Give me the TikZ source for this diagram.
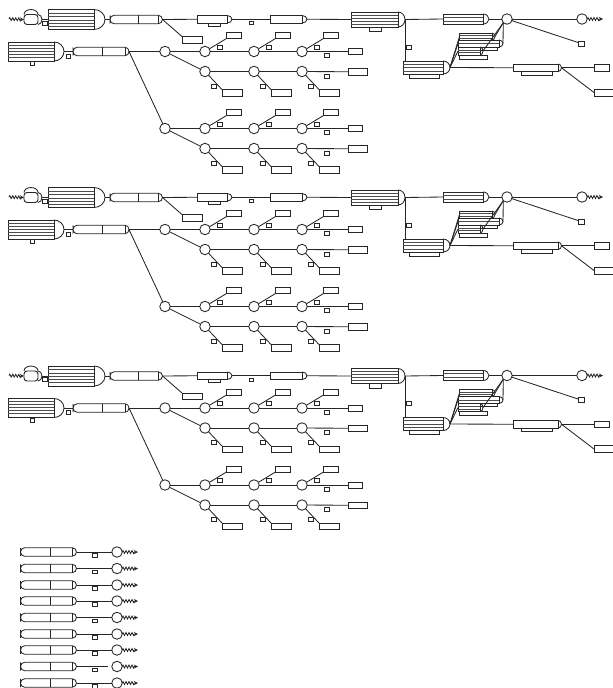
\documentclass[tikz,border=0pt]{standalone}
\usetikzlibrary{decorations.pathmorphing}
\tikzset{
  wire/.style={line width=0.85pt,black!85},
  unitbox/.style={draw=black!85,fill=white,line width=0.95pt,inner sep=0pt,outer sep=0pt},
  tubebody/.style={inner sep=0pt,outer sep=0pt},
  vlv/.style={circle,draw=black!85,fill=white,line width=0.85pt,minimum size=10.5pt,inner sep=0pt,outer sep=0pt},
  sq/.style={draw=black!85,fill=white,line width=0.8pt,minimum width=5pt,minimum height=4pt,inner sep=0pt,outer sep=0pt},
  zig/.style={wire,->,>=stealth,decorate,decoration={zigzag,amplitude=1.4pt,segment length=3pt,post length=3pt}}
}
% name, x1, y1, x2, y2
\newcommand{\rtag}[5]{\node[unitbox,minimum width={(#4-#2)*1pt},minimum height={(#5-#3)*1pt}] (#1) at ({(#2+#4)/2},{(#3+#5)/2}) {};}
% name, cap width, half height
\newcommand{\capon}[3]{
  \draw[wire] (#1.east) ++(0,#3pt) arc[start angle=90,end angle=-90,x radius=#2pt,y radius=#3pt];
  \coordinate (#1-o) at ([xshift=#2pt]#1.east);
}
% name, x1, y1, x2, y2, cap width, stripes
\newcommand{\vessel}[7]{
  \rtag{#1}{#2}{#3}{#4}{#5}
  \foreach \yy in {#7} \draw[wire,black!70] (#2,\yy) -- (#4,\yy);
  \pgfmathsetmacro{\capr}{(#5-#3)/2}
  \capon{#1}{#6}{\capr}
}
% name, x1, x2, divider, y, cap width
\newcommand{\tube}[6]{
  \node[tubebody,minimum width={(#3-#2)*1pt},minimum height=8.5pt] (#1) at ({(#2+#3)/2},#5) {};
  \draw[wire,rounded corners=4.2pt] (#1.south east) -| (#1.west) |- (#1.north east);
  \draw[wire] (#1.north east) -- (#1.south east);
  \draw[wire] (#4,#5-4.25) -- (#4,#5+4.25);
  \capon{#1}{#6}{4.25}
}
\begin{document}
\begin{tikzpicture}[x=1pt,y=-1pt]
  \useasboundingbox (0,0) rectangle (613,688);
  \foreach \blk/\dy in {1/0,2/178,3/356.5}{
  \begin{scope}[yshift=-\dy pt,name prefix=b\blk-]
    % Top line: intake to the first vessel
    \coordinate (zin) at (9,19);
    \node[unitbox,rounded corners=3pt,minimum width=14pt,minimum height=10pt] (intk) at (31,19.5) {};
    \draw[wire] (intk.north west) arc[start angle=180,end angle=0,x radius=7pt,y radius=5pt];
    \capon{intk}{4}{5}
    \draw[zig] (zin) -- (intk.west);
    \vessel{ves1}{48}{9.5}{94}{29.5}{11}{13,16.5,20,23,26}
    \draw[wire] (intk-o) -- (ves1.west);
    \node[sq] (s1) at (45,23) {};
    \tube{tb1}{110}{158}{138}{19.5}{4.5}
    \draw[wire] (ves1-o) -- (tb1.west);
    \rtag{t1}{182}{36.5}{202}{43}
    \draw[wire] (tb1-o) -- (t1.north west);
    % Top line: two heaters
    \rtag{ut1}{208}{23}{220.5}{26}
    \rtag{h1}{197}{15.5}{227}{23}
    \capon{h1}{5}{3.75}
    \rtag{h2}{270}{15.5}{302}{23}
    \capon{h2}{5}{3.75}
    \node[sq,minimum width=4pt,minimum height=3pt] (s2) at (251.5,23) {};
    \draw[wire] (tb1-o) -- (h1.west);
    \draw[wire] (h1-o) -- (h2.west);
    % Second vessel and what follows it
    \rtag{ut2}{369}{27}{381}{31.5}
    \vessel{ves2}{351}{12}{398}{27}{7}{15,18,21,24}
    \draw[wire] (h2-o) -- (ves2.west);
    \vessel{ves3}{443}{14}{483}{24}{6}{17,21}
    \draw[wire] (ves2-o) -- (ves3.west);
    \node[vlv] (m1) at (507,19) {};
    \node[vlv] (m2) at (582,19) {};
    \coordinate (zout) at (603,19);
    \draw[wire] (ves3-o) -- (m1);
    \draw[wire] (m1) -- (m2);
    \draw[zig] (m2) -- (zout);
    \node[sq,minimum width=6pt,minimum height=5pt] (s3) at (581,43.5) {};
    \draw[wire] (m1) -- (s3);
    % Lower vessel with the stack
    \rtag{ut3}{409}{74}{439}{78}
    \vessel{ves4}{403}{61}{443}{74}{7}{64,67.5,71}
    \draw[wire] (ves2-o) -- ([xshift=2pt]ves4.north west);
    \node[sq,minimum height=4pt] (s4) at (408.5,47) {};
    \rtag{ut4}{459}{55}{487}{59}
    \vessel{sa}{459.5}{33}{492}{40}{3}{35.5,38}
    \rtag{ut5}{465}{47}{497}{50}
    \vessel{sb}{458}{40}{499}{47}{4}{43.5}
    \vessel{sc}{458}{47}{480}{55}{3}{50,52.5}
    \draw[wire] (ves4-o) -- (sa.west);
    \draw[wire] (ves4-o) -- (sb.west);
    \draw[wire] (ves4-o) -- (sc.west);
    \draw[wire] (sa-o) -- (m1.south west);
    \draw[wire] (sb-o) -- (m1.south west);
    \draw[wire] (sc-o) -- (m1.south west);
    \rtag{h3}{513}{64}{558}{71.5}
    \rtag{ut6}{521}{71.5}{552}{75}
    \capon{h3}{3.5}{3.75}
    \rtag{t2}{594}{64.5}{609}{71}
    \rtag{t3}{594}{89}{613}{96}
    \draw[wire] (ves4-o) -- (h3.west);
    \draw[wire] (h3-o) -- (t2.west);
    \draw[wire] (h3-o) -- (t3.west);
    % Left vessel and both groups
    \vessel{ves5}{8}{42}{54}{61}{10}{45,48,51,54,57}
    \node[sq,minimum width=4pt] (s5) at (32,63.5) {};
    \node[sq,minimum width=4pt] (s6) at (68.5,56) {};
    \tube{tb2}{73}{125}{102}{51.5}{4}
    \draw[wire] (ves5-o) -- (tb2.west);
    \foreach \grp/\gy in {a/0,b/77}{
    \begin{scope}[yshift=-\gy pt]
      \node[vlv] (hub\grp) at (165,51.5) {};
      \rtag{r1\grp}{348}{48.5}{362}{54.5}
      \rtag{r2\grp}{348}{68.5}{367}{75}
      \foreach \cl/\xx in {1/205,2/254,3/302}{
        \node[vlv] (p\grp\cl) at (\xx,51.5) {};
        \node[vlv] (q\grp\cl) at (\xx,71.5) {};
        \pgfmathsetmacro{\xa}{\xx+21.5}
        \pgfmathsetmacro{\xb}{\xx+36.5}
        \rtag{up\grp\cl}{\xa}{32.5}{\xb}{38.5}
        \pgfmathsetmacro{\xc}{\xx+17}
        \pgfmathsetmacro{\xd}{\xx+37}
        \rtag{dn\grp\cl}{\xc}{89.5}{\xd}{96}
        \node[sq] (su\grp\cl) at (\xx+15,47) {};
        \node[sq] (sd\grp\cl) at (\xx+9,86) {};
        \draw[wire] (p\grp\cl) -- (up\grp\cl.south west);
        \draw[wire] (q\grp\cl) -- (dn\grp\cl.north west);
      }
      \node[sq] (se1\grp) at (327,55.5) {};
      \node[sq] (se2\grp) at (327,76) {};
      \draw[wire] (hub\grp) -- (p\grp1);
      \draw[wire] (p\grp1) -- (p\grp2);
      \draw[wire] (p\grp2) -- (p\grp3);
      \draw[wire] (p\grp3) -- (r1\grp.west);
      \draw[wire] (hub\grp) -- (q\grp1);
      \draw[wire] (q\grp1) -- (q\grp2);
      \draw[wire] (q\grp2) -- (q\grp3);
      \draw[wire] (q\grp3) -- (r2\grp.west);
    \end{scope}
    }
    \draw[wire] (tb2-o) -- (huba);
    \draw[wire] (tb2-o) -- (hubb);
  \end{scope}
  }
  % Bottom list
  \foreach \rw/\yy/\gap in {1/552/0,2/568.5/0,3/585/0,4/601/0,5/617.5/0,6/634/0,7/650/0,8/666.5/4,9/683/0}{
    \tube{tl\rw}{20.5}{72}{50}{\yy}{4.5}
    \node[vlv] (cl\rw) at (117,\yy) {};
    \node[sq,minimum height=3.5pt] (sl\rw) at (95,\yy+3.3) {};
    \coordinate (zl\rw) at (138,\yy);
    \draw[wire,shorten >=\gap pt] (tl\rw-o) -- (cl\rw);
    \draw[zig] (cl\rw) -- (zl\rw);
  }
\end{tikzpicture}
\end{document}
